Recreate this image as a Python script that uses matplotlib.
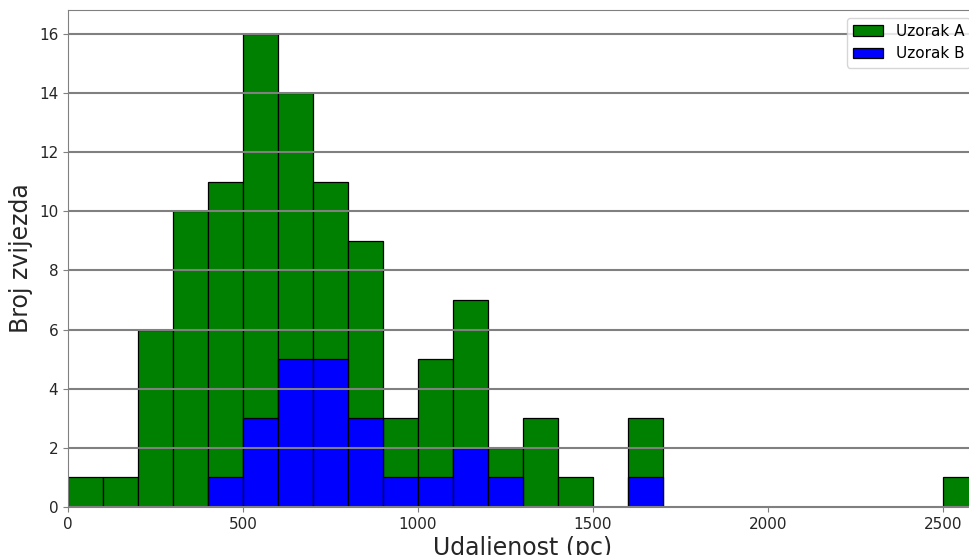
import numpy as np
import matplotlib
matplotlib.use('Agg')
import matplotlib.pyplot as plt

# granice binova (pc) i broj zvijezda po binu
bin_edges = np.arange(0, 2700, 100)
uzorak_a = [1, 1, 6, 10, 11, 16, 14, 11, 9, 3, 5, 7, 2, 3, 1, 0, 3,
            0, 0, 0, 0, 0, 0, 0, 0, 1]
uzorak_b = [0, 0, 0, 0, 1, 3, 5, 5, 3, 1, 1, 2, 1, 0, 0, 0, 1,
            0, 0, 0, 0, 0, 0, 0, 0, 0]

fig = plt.figure(figsize=(9.69, 5.55), dpi=100)
ax = fig.add_axes([68 / 969, 48 / 555, (978 - 68) / 969, 497 / 555])

lefts = bin_edges[:-1]
ax.bar(lefts, uzorak_a, width=100, align='edge', color='green',
       edgecolor='black', linewidth=0.9, label='Uzorak A')
ax.bar(lefts, uzorak_b, width=100, align='edge', color='blue',
       edgecolor='black', linewidth=0.9, label='Uzorak B')

ax.set_xlim(0, 2600)
ax.set_ylim(0, 16.8)
ax.set_yticks(range(0, 17, 2))
ax.set_xticks([0, 500, 1000, 1500, 2000, 2500])

ax.yaxis.grid(True, color='gray', linewidth=1.5)
ax.set_axisbelow(False)

for s in ax.spines.values():
    s.set_color('gray')
ax.tick_params(colors='gray', labelcolor='#262626', labelsize=11)

ax.set_xlabel('Udaljenost (pc)', fontsize=17, color='#262626', labelpad=3)
ax.set_ylabel('Broj zvijezda', fontsize=17, color='#262626')

ax.legend(loc='upper right', fontsize=11)

fig.savefig('out.png', dpi=100)
